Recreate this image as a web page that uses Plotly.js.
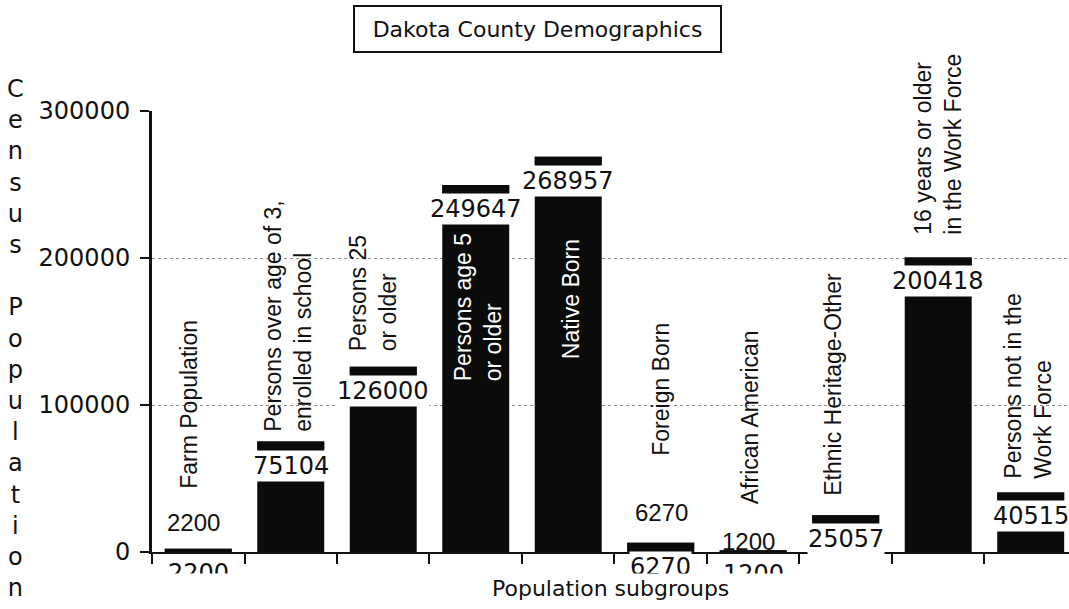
<!DOCTYPE html>
<html>
<head>
<meta charset="utf-8">
<script src="https://cdn.plot.ly/plotly-3.0.1.min.js"></script>
<style>html,body{margin:0;padding:0;background:#fff;overflow:hidden;}#chart{width:1069px;height:609px;}</style>
</head>
<body>
<div id="chart"></div>
<script>
// ---- data ----
const categories = [
  'Farm Population',
  'Persons over age of 3,<br>enrolled in school',
  'Persons 25<br>or older',
  'Persons age 5<br>or older',
  'Native Born',
  'Foreign Born',
  'African American',
  'Ethnic Heritage-Other',
  '16 years or older<br>in the Work Force',
  'Persons not in the<br>Work Force'
];
const values = [2200, 75104, 126000, 249647, 268957, 6270, 1200, 25057, 200418, 40515];
const yTickVals = [0, 100000, 200000, 300000];
const chartTitle = 'Dakota County Demographics';
const xTitle = 'Population subgroups';
const yTitle = 'Census Population';

// ---- layout config (positions / styles) ----
const Y_MAX = 300000, PLOT_H = 441;
const dashPx = 8;
const dashUnits = dashPx * Y_MAX / PLOT_H;
const numFont = {family: 'DejaVu Sans, Verdana, sans-serif', size: 24, color: '#111'};
const labFont = {family: 'Liberation Sans, Arial, sans-serif', size: 23, color: '#111'};
// category label placement: dx offset from category centre, bottom (paper), white text?
const labelPos = [
  {dx: -0.097, b: 0.1406},
  {dx: -0.038, b: 0.2698},
  {dx: -0.108, b: 0.4535},
  {dx: 0.027, b: 0.3855, white: true},
  {dx: 0.032, b: 0.4354, white: true},
  {dx: -0.005, b: 0.2154},
  {dx: -0.032, b: 0.1066},
  {dx: -0.146, b: 0.1247},
  {dx: 0.0, b: 0.7166},
  {dx: -0.027, b: 0.1633}
];
// extra labels drawn above small bars (index -> vertical shift px, x shift px)
const aboveLabels = {0: {ys: 26, xs: -5}, 5: {ys: 30, xs: 1}, 6: {ys: 9, xs: -5}};

const traces = [
  {type: 'bar', x: categories, y: values, marker: {color: '#0b0b0b', line: {width: 0}}, hoverinfo: 'none'},
  {type: 'bar', x: categories, y: values.map(() => -dashUnits), base: values,
   marker: {color: '#0b0b0b', line: {width: 0}}, hoverinfo: 'none'}
];

const annotations = [];
// value labels below the dash (white box)
values.forEach((v, i) => {
  annotations.push({
    x: categories[i], y: v, xref: 'x', yref: 'y', yanchor: 'top', xanchor: 'center',
    yshift: -dashPx, text: String(v), showarrow: false, font: numFont,
    bgcolor: '#ffffff', height: 30, borderpad: 0
  });
});
// labels above small bars
Object.keys(aboveLabels).forEach(k => {
  const i = +k, o = aboveLabels[k];
  annotations.push({
    x: categories[i], y: values[i], xref: 'x', yref: 'y', yanchor: 'middle', xanchor: 'center',
    yshift: o.ys, xshift: o.xs, text: String(values[i]), showarrow: false,
    font: {family: 'Liberation Sans, Arial, sans-serif', size: 24, color: '#111'}
  });
});
// cover that cuts labels below the axis
annotations.push({
  x: 0.4989, y: -0.0896, xref: 'paper', yref: 'paper', xanchor: 'center', yanchor: 'middle',
  text: ' ', showarrow: false, bgcolor: '#ffffff', width: 919, height: 35, borderpad: 0
});
// category labels (rotated)
categories.forEach((c, i) => {
  const p = labelPos[i];
  annotations.push({
    x: i + p.dx, y: p.b, xref: 'x', yref: 'paper', xanchor: 'center', yanchor: 'bottom',
    text: c, textangle: -90, align: 'left', showarrow: false, borderpad: 0,
    font: Object.assign({}, labFont, {color: p.white ? '#ffffff' : '#111'})
  });
});
// title box
annotations.push({
  x: 0.4204, y: 1.186, xref: 'paper', yref: 'paper', xanchor: 'center', yanchor: 'middle',
  text: chartTitle, showarrow: false, bordercolor: '#111', borderwidth: 2, borderpad: 0,
  width: 365, height: 44, bgcolor: '#fff',
  font: {family: 'DejaVu Sans, Verdana, sans-serif', size: 22, color: '#111'}
});
// x title
annotations.push({
  x: 0.5005, y: -0.0839, xref: 'paper', yref: 'paper', xanchor: 'center', yanchor: 'middle',
  text: xTitle, showarrow: false,
  font: {family: 'DejaVu Sans, Verdana, sans-serif', size: 22, color: '#111'}
});
// y title, stacked letters
annotations.push({
  x: -0.1494, y: 0.484, xref: 'paper', yref: 'paper', xanchor: 'center', yanchor: 'middle',
  text: yTitle.split('').map(ch => ch === ' ' ? '\u00a0' : ch).join('<br>'), showarrow: false,
  align: 'center', font: {family: 'DejaVu Sans, Verdana, sans-serif', size: 24, color: '#111'}
});

const layout = {
  width: 1069, height: 609,
  margin: {l: 152, r: 0, t: 111, b: 57, pad: 0},
  paper_bgcolor: '#fff', plot_bgcolor: '#fff',
  showlegend: false, barmode: 'overlay', bargap: 0.276,
  xaxis: {
    type: 'category', range: [-0.5, 9.414], tickson: 'boundaries',
    ticks: 'outside', ticklen: 10, tickwidth: 2, tickcolor: '#111',
    showticklabels: false, showline: true, linecolor: '#111', linewidth: 2,
    showgrid: false, zeroline: false, fixedrange: true
  },
  yaxis: {
    range: [0, Y_MAX], tickvals: yTickVals, tickformat: 'd',
    ticks: 'outside', ticklen: 9, tickwidth: 1.5, tickcolor: '#111',
    showline: true, linecolor: '#111', linewidth: 3,
    showgrid: true, gridcolor: '#8a8a8a', griddash: 'dot', gridwidth: 1,
    zeroline: false, tickfont: numFont, ticklabelstandoff: 5, fixedrange: true
  },
  annotations: annotations
};

Plotly.newPlot('chart', traces, layout, {displayModeBar: false, staticPlot: true});
</script>
</body>
</html>
